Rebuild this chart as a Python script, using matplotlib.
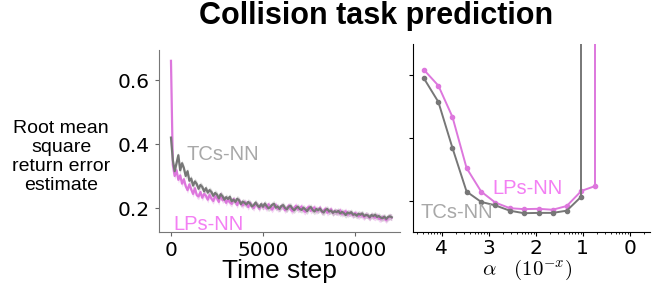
import numpy as np
import matplotlib
matplotlib.use('Agg')
import matplotlib.pyplot as plt
from matplotlib.ticker import FuncFormatter, LogLocator

plt.rcParams['font.family'] = ['Liberation Sans', 'DejaVu Sans']
plt.rcParams['mathtext.fontset'] = 'cm'

# ---- left panel: learning curves (RMS return error vs time step)
time_steps = np.arange(0, 12001, 100)
tcs_curve = [0.42, 0.35, 0.315, 0.34, 0.365, 0.318, 0.34, 0.325, 0.3, 0.315, 0.285,
             0.292, 0.27, 0.283, 0.275, 0.26, 0.272, 0.266, 0.252, 0.262, 0.248,
             0.256, 0.25, 0.238, 0.247, 0.242, 0.23, 0.243, 0.237, 0.226, 0.234,
             0.228, 0.235, 0.221, 0.226, 0.219, 0.229, 0.224, 0.212, 0.22, 0.216,
             0.211, 0.219, 0.214, 0.205, 0.209, 0.217, 0.208, 0.203, 0.212, 0.204,
             0.214, 0.206, 0.199, 0.203, 0.21, 0.213, 0.201, 0.205, 0.197, 0.206,
             0.209, 0.2, 0.196, 0.204, 0.207, 0.198, 0.193, 0.2, 0.204, 0.197,
             0.194, 0.201, 0.196, 0.19, 0.199, 0.203, 0.194, 0.189, 0.197, 0.193,
             0.198, 0.19, 0.186, 0.194, 0.197, 0.189, 0.192, 0.185, 0.19, 0.187,
             0.191, 0.183, 0.188, 0.184, 0.178, 0.186, 0.183, 0.187, 0.179, 0.181,
             0.176, 0.182, 0.179, 0.183, 0.175, 0.178, 0.177, 0.171, 0.178, 0.175,
             0.179, 0.172, 0.175, 0.17, 0.168, 0.173, 0.166, 0.172, 0.174, 0.171]
lps_curve = [0.66, 0.335, 0.3, 0.318, 0.288, 0.302, 0.276, 0.29, 0.268, 0.256, 0.274,
             0.258, 0.244, 0.262, 0.24, 0.236, 0.25, 0.232, 0.244, 0.238, 0.226,
             0.241, 0.229, 0.222, 0.237, 0.231, 0.219, 0.243, 0.224, 0.23, 0.216,
             0.227, 0.218, 0.213, 0.228, 0.221, 0.209, 0.224, 0.215, 0.208, 0.219,
             0.214, 0.203, 0.216, 0.206, 0.2, 0.213, 0.209, 0.198, 0.21, 0.204,
             0.207, 0.198, 0.212, 0.203, 0.195, 0.204, 0.21, 0.197, 0.2, 0.206,
             0.203, 0.193, 0.199, 0.208, 0.196, 0.19, 0.201, 0.207, 0.195, 0.198,
             0.205, 0.192, 0.188, 0.2, 0.204, 0.191, 0.197, 0.202, 0.19, 0.194,
             0.201, 0.187, 0.192, 0.198, 0.185, 0.191, 0.196, 0.184, 0.19, 0.188,
             0.185, 0.193, 0.181, 0.186, 0.19, 0.179, 0.185, 0.182, 0.177, 0.184,
             0.181, 0.174, 0.18, 0.176, 0.171, 0.179, 0.175, 0.169, 0.177, 0.173,
             0.17, 0.176, 0.167, 0.165, 0.172, 0.168, 0.162, 0.169, 0.173, 0.17]
band = 0.01

# ---- right panel: final error vs step size alpha = 10^-x
tcs_exp = [4.38, 4.07, 3.77, 3.47, 3.16, 2.86, 2.55, 2.25, 1.94, 1.64, 1.34, 1.03]
tcs_err = [0.591, 0.515, 0.368, 0.229, 0.196, 0.185, 0.168, 0.160, 0.161, 0.161, 0.168, 0.213]
lps_exp = [4.38, 4.07, 3.77, 3.47, 3.16, 2.86, 2.55, 2.25, 1.94, 1.64, 1.34, 1.03, 0.73]
lps_err = [0.618, 0.567, 0.467, 0.304, 0.229, 0.194, 0.176, 0.173, 0.174, 0.171, 0.183, 0.231, 0.247]
diverged = 5.0  # next step size blows up

gray = '#777777'
pink = '#dd77dd'
gray_lbl = '#a8a8a8'
pink_lbl = '#f37ff3'
tick_font = {'family': 'DejaVu Sans', 'size': 14.5}

fig = plt.figure(figsize=(6.52, 2.84), dpi=100)
ax1 = fig.add_axes([0.2439, 0.1831, 0.3696, 0.641])
ax2 = fig.add_axes([0.6334, 0.1831, 0.3635, 0.662])

lps = np.array(lps_curve)
tcs = np.array(tcs_curve)
ax1.fill_between(time_steps, lps - band, lps + band, color=pink, alpha=0.3, lw=0)
ax1.plot(time_steps, lps, color=pink, lw=1.6)
ax1.fill_between(time_steps, tcs - band, tcs + band, color=gray, alpha=0.25, lw=0)
ax1.plot(time_steps, tcs, color=gray, lw=1.6)
ax1.set_xlim(-650, 12450)
ax1.set_ylim(0.125, 0.694)
ax1.set_xticks([0, 5000, 10000])
ax1.set_yticks([0.2, 0.4, 0.6])
ax1.tick_params(length=3, width=0.8, color='#666666')
for lab in ax1.get_xticklabels() + ax1.get_yticklabels():
    lab.set_fontproperties(tick_font)
for s in ['top', 'right']:
    ax1.spines[s].set_visible(False)
for s in ['left', 'bottom']:
    ax1.spines[s].set_color('#777777')
ax1.set_xlabel('Time step', fontsize=19, labelpad=-1)
ax1.text(870, 0.366, 'TCs-NN', color=gray_lbl, fontsize=14.5, ha='left', va='center')
ax1.text(110, 0.15, 'LPs-NN', color=pink_lbl, fontsize=14.5, ha='left', va='center')

tcs_alpha = 10.0 ** (-np.array(tcs_exp))
lps_alpha = 10.0 ** (-np.array(lps_exp))
ax2.plot(lps_alpha, lps_err, color=pink, lw=1.4, marker='o', ms=3)
ax2.vlines(lps_alpha[-1], lps_err[-1], diverged, color=pink, lw=1.4)
ax2.plot(tcs_alpha, tcs_err, color=gray, lw=1.4, marker='o', ms=3)
ax2.vlines(tcs_alpha[-1], tcs_err[-1], diverged, color=gray, lw=1.4)
ax2.set_xscale('log')
ax2.set_xlim(10 ** -4.61, 10 ** 0.43)
ax2.set_ylim(0.1, 0.7)
ax2.set_xticks([1e-4, 1e-3, 1e-2, 1e-1, 1e0])
ax2.xaxis.set_minor_locator(LogLocator(base=10, subs=np.arange(2, 10)))
ax2.xaxis.set_major_formatter(FuncFormatter(lambda v, p: '%d' % round(-np.log10(v))))
ax2.set_yticks([0.2, 0.4, 0.6])
ax2.set_yticklabels([])
ax2.tick_params(length=3, width=0.8)
ax2.tick_params(axis='x', pad=2)
ax2.tick_params(which='minor', length=1.5, width=0.6)
for lab in ax2.get_xticklabels():
    lab.set_fontproperties(tick_font)
for s in ['top', 'right']:
    ax2.spines[s].set_visible(False)
ax2.text(10 ** -2.93, 0.24, 'LPs-NN', color=pink_lbl, fontsize=14.5, ha='left', va='center')
ax2.text(10 ** -4.46, 0.161, 'TCs-NN', color=gray_lbl, fontsize=14.5, ha='left', va='center')

fig.text(0.808, 0.008, r'$\alpha\ \ \ (10^{-x})$', fontsize=15, ha='center', va='bottom')
fig.text(0.094, 0.447, 'Root mean\nsquare\nreturn error\nestimate', fontsize=14,
         ha='center', va='center', linespacing=1.15)
fig.suptitle('Collision task prediction', fontsize=22, fontweight='bold', x=0.577, y=0.995)

fig.savefig('out.png', dpi=100)
